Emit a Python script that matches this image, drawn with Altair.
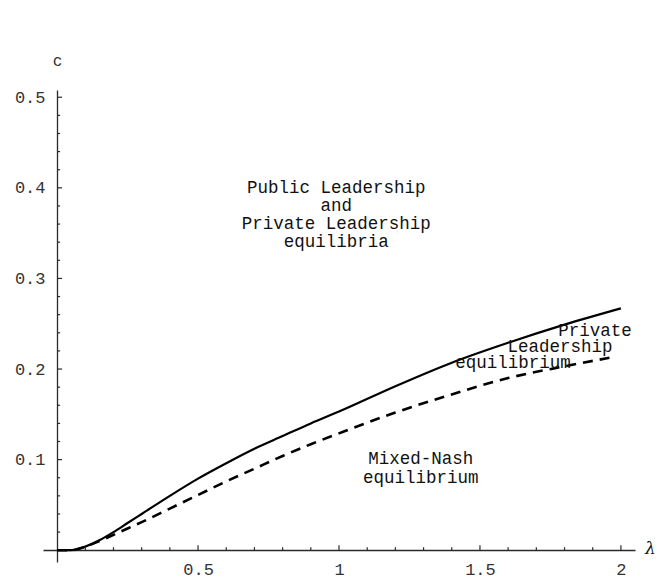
import altair as alt
import pandas as pd

# ---- data ----
lam_solid = [0, 0.05, 0.08, 0.1, 0.15, 0.2, 0.25, 0.3, 0.4, 0.5, 0.6, 0.7, 0.8, 0.9, 1.0, 1.2, 1.4, 1.6, 1.8, 2.0]
c_solid = [0, 0, 0.002, 0.004, 0.011, 0.020, 0.030, 0.040, 0.060, 0.079, 0.096, 0.112, 0.126, 0.140, 0.153, 0.181, 0.207, 0.229, 0.249, 0.267]

lam_dash = [0, 0.05, 0.08, 0.1, 0.15, 0.2, 0.25, 0.3, 0.4, 0.5, 0.6, 0.7, 0.8, 0.9, 1.0, 1.2, 1.4, 1.6, 1.8, 1.97]
c_dash = [0, 0, 0.002, 0.004, 0.010, 0.017, 0.024, 0.031, 0.046, 0.061, 0.076, 0.090, 0.104, 0.117, 0.129, 0.152, 0.172, 0.190, 0.203, 0.213]

x_major = [0.5, 1, 1.5, 2]
x_minor = [0.1, 0.2, 0.3, 0.4, 0.6, 0.7, 0.8, 0.9, 1.1, 1.2, 1.3, 1.4, 1.6, 1.7, 1.8, 1.9]
y_major = [0.1, 0.2, 0.3, 0.4, 0.5]
y_minor = [0.02, 0.04, 0.06, 0.08, 0.12, 0.14, 0.16, 0.18, 0.22, 0.24, 0.26, 0.28,
           0.32, 0.34, 0.36, 0.38, 0.42, 0.44, 0.46, 0.48]

note_text = ["Public Leadership", "and", "Private Leadership", "equilibria",
             "Private", "Leadership", "equilibrium",
             "Mixed-Nash", "equilibrium"]
note_lam = [0.99, 0.99, 0.99, 0.99, 1.908, 1.784, 1.617, 1.29, 1.29]
note_c = [0.3996, 0.3797, 0.3598, 0.3400, 0.2417, 0.2241, 0.2064, 0.1004, 0.0795]

X_DOMAIN = [-0.05, 2.05]
Y_DOMAIN = [-0.013, 0.508]

solid_df = pd.DataFrame({"lam": lam_solid, "c": c_solid})
dash_df = pd.DataFrame({"lam": lam_dash, "c": c_dash})
xmaj_df = pd.DataFrame({"t": x_major})
xmin_df = pd.DataFrame({"t": x_minor})
ymaj_df = pd.DataFrame({"t": y_major})
ymin_df = pd.DataFrame({"t": y_minor})
note_df = pd.DataFrame({"txt": note_text, "lam": note_lam, "c": note_c})

xs = alt.Scale(domain=X_DOMAIN, nice=False, zero=False)
ys = alt.Scale(domain=Y_DOMAIN, nice=False, zero=False)

AXC = "#2a2a2a"

x_axis = alt.Axis(orient="bottom", offset=-12, values=x_major, format="~g",
                  ticks=False, tickSize=0, grid=False, domain=True,
                  domainColor=AXC, domainWidth=1.3,
                  labelFont="Liberation Mono", labelFontSize=17, labelColor="#333",
                  labelPadding=11, labelFlush=False, labelOverlap=False,
                  title="λ", titleX=607, titleY=-2, titleAlign="center",
                  titleBaseline="middle", titleFont="DejaVu Serif",
                  titleFontStyle="italic", titleFontWeight="normal",
                  titleFontSize=17, titleColor="#111")
y_axis = alt.Axis(orient="left", offset=-14, values=y_major, format=".1f",
                  ticks=False, tickSize=0, grid=False, domain=True,
                  domainColor=AXC, domainWidth=1.3,
                  labelFont="Liberation Mono", labelFontSize=17, labelColor="#333",
                  labelPadding=12, labelFlush=False, labelOverlap=False,
                  title="c", titleAngle=0, titleX=0, titleY=-30,
                  titleAlign="center", titleBaseline="middle",
                  titleFont="Liberation Mono", titleFontWeight="normal",
                  titleFontSize=16, titleColor="#333")

solid = alt.Chart(solid_df).mark_line(color="black", strokeWidth=2.2,
                                      interpolate="monotone").encode(
    x=alt.X("lam:Q", scale=xs, axis=x_axis),
    y=alt.Y("c:Q", scale=ys, axis=y_axis),
)
dashed = alt.Chart(dash_df).mark_line(color="black", strokeWidth=2.6,
                                      interpolate="monotone",
                                      strokeDash=[10, 7]).encode(
    x=alt.X("lam:Q", scale=xs),
    y=alt.Y("c:Q", scale=ys),
)

def xticks(df, length):
    return alt.Chart(df).mark_rule(color=AXC, strokeWidth=1.2, y2Offset=-length).encode(
        x=alt.X("t:Q", scale=xs),
        y=alt.datum(0, scale=ys),
        y2=alt.datum(0),
    )

def yticks(df, length):
    return alt.Chart(df).mark_rule(color=AXC, strokeWidth=1.2, x2Offset=length).encode(
        y=alt.Y("t:Q", scale=ys),
        x=alt.datum(0, scale=xs),
        x2=alt.datum(0),
    )

notes = alt.Chart(note_df).mark_text(font="Liberation Mono", fontSize=17.5,
                                     align="center", baseline="middle",
                                     color="#111").encode(
    x=alt.X("lam:Q", scale=xs),
    y=alt.Y("c:Q", scale=ys),
    text="txt:N",
)

chart = alt.layer(
    solid, dashed,
    xticks(xmaj_df, 5), xticks(xmin_df, 3),
    yticks(ymaj_df, 5), yticks(ymin_df, 3),
    notes,
).properties(
    width=592, height=472,
    padding={"left": 35, "top": 82, "right": 21, "bottom": 16},
    autosize=alt.AutoSizeParams(type="none"),
    background="white",
).configure_view(stroke=None)

chart.save("out.html", embed_options={"renderer": "svg", "actions": False})
